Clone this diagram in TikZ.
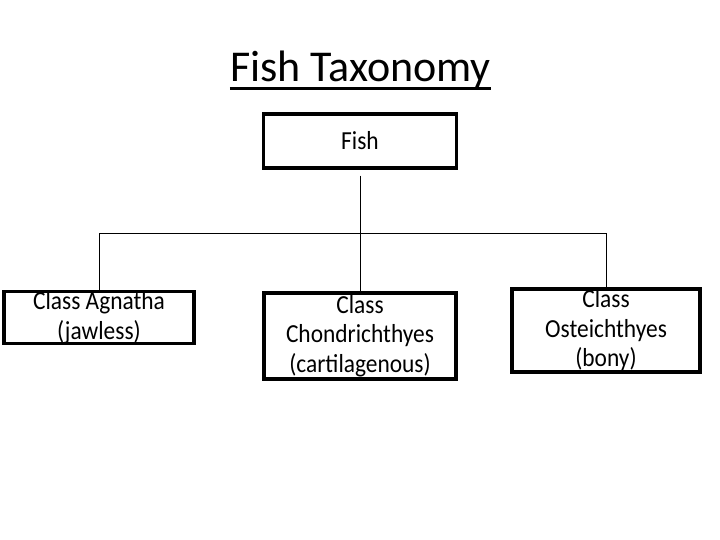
\documentclass[tikz,border=0pt]{standalone}
\usepackage{fontspec}
\setmainfont{Carlito}
\newfontfamily\narrowfont[FakeStretch=0.9]{Carlito}
\begin{document}
\begin{tikzpicture}[x=1bp,y=-1bp]
	\tikzset{taxon/.style={draw, line width=3.2bp, align=center, inner sep=0pt,
		font=\narrowfont\fontsize{26bp}{29.5bp}\selectfont}}
	\tikzset{branch/.style={line width=0.8bp}}
	\useasboundingbox (0,0) rectangle (720,540);
	% heading
	\node[inner sep=0pt, anchor=base, font=\fontsize{44bp}{50bp}\selectfont] (title) at (360.5,82) {Fish Taxonomy};
	\draw[line width=3bp] ([yshift=-7bp]title.base west) -- ([yshift=-7bp]title.base east);
	% root and classes
	\node[taxon, minimum width=193bp, minimum height=54bp] (fish) at (360,141) {Fish};
	\node[taxon, minimum width=190bp, minimum height=51bp] (agnatha) at (99,317.5) {Class Agnatha\\(jawless)};
	\node[taxon, minimum width=192bp, minimum height=86bp] (chondr) at (360,336) {Class\\Chondrichthyes\\(cartilagenous)};
	\node[taxon, minimum width=188bp, minimum height=83bp] (osteich) at (606,330.5) {Class\\Osteichthyes\\(bony)};
	\coordinate (hub) at (360,233);
	% tree lines
	\draw[branch] ([yshift=-6bp]fish.south) -- (chondr.north);
	\draw[branch] (agnatha.north) -- (agnatha.north |- hub) -- (osteich.north |- hub) -- (osteich.north);
\end{tikzpicture}
\end{document}
